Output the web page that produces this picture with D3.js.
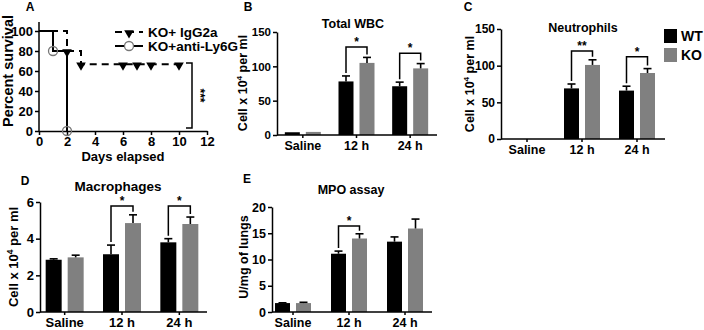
<!DOCTYPE html>
<html><head><meta charset="utf-8">
<script src="https://cdn.jsdelivr.net/npm/d3@7"></script>
<style>
html,body{margin:0;padding:0;background:#fff;}
svg{display:block;font-family:"Liberation Sans",Arial,Helvetica,sans-serif;font-weight:bold;}
</style></head>
<body><svg id="c" width="704" height="330"></svg>
<script>
// ---------- DATA ----------
const categories = ["Saline", "12 h", "24 h"];
const seriesNames = ["WT", "KO"];

// Panel A: survival (Kaplan-Meier)
const survXTicks = [0, 2, 4, 6, 8, 10, 12];
const survYTicks = [0, 20, 40, 60, 80, 100];
const iggTimes = [0, 2, 3, 10];
const iggSurv = [100, 80, 66.7, 66.7];
const iggMarkTimes = [2, 3, 6, 7, 8, 10];
const iggMarkSurv = [80, 66.7, 66.7, 66.7, 66.7, 66.7];
const ly6gTimes = [0, 1, 2, 2];
const ly6gSurv = [100, 80, 80, 0];
const ly6gMarkTimes = [1, 2];
const ly6gMarkSurv = [80, 0];
const survLegend = ["KO+ IgG2a", "KO+anti-Ly6G"];
const survSig = "***";
const survSigRange = [3, 68];

// Panel B: Total WBC
const wbcWT = [4, 78, 71];
const wbcWTErr = [0, 8, 6];
const wbcKO = [4.5, 105, 97];
const wbcKOErr = [0, 8, 7];
const wbcTicks = [0, 50, 100, 150];
const wbcSigCats = ["12 h", "24 h"];
const wbcSigTop = [128, 119];
const wbcSigLabel = ["*", "*"];

// Panel C: Neutrophils
const neuWT = [0, 69, 66];
const neuWTErr = [0, 6, 6];
const neuKO = [0, 101, 90];
const neuKOErr = [0, 7, 6];
const neuTicks = [0, 50, 100, 150];
const neuSigCats = ["12 h", "24 h"];
const neuSigTop = [120, 112];
const neuSigLabel = ["**", "*"];

// Panel D: Macrophages
const macWT = [2.85, 3.15, 3.8];
const macWTErr = [0.05, 0.5, 0.2];
const macKO = [2.98, 4.85, 4.8];
const macKOErr = [0.12, 0.45, 0.38];
const macTicks = [0, 2, 4, 6];
const macSigCats = ["12 h", "24 h"];
const macSigTop = [5.78, 5.78];
const macSigLabel = ["*", "*"];

// Panel E: MPO assay
const mpoWT = [1.7, 11.1, 13.4];
const mpoWTErr = [0.05, 0.5, 0.9];
const mpoKO = [1.7, 14.0, 15.9];
const mpoKOErr = [0.15, 0.9, 1.8];
const mpoTicks = [0, 5, 10, 15, 20];
const mpoSigCats = ["12 h"];
const mpoSigTop = [16.4];
const mpoSigLabel = ["*"];

// ---------- DRAW ----------
const svg = d3.select("#c");
const colors = {WT: "#000000", KO: "#808080"};
const fmt = d3.format("d");

function panelLetter(t, x, y) {
  svg.append("text").attr("x", x).attr("y", y).attr("font-size", 12)
    .attr("text-anchor", "middle").attr("dominant-baseline", "middle").text(t);
}

function cellLabel(g, x, y, size) {
  const t = g.append("text").attr("transform", `translate(${x},${y}) rotate(-90)`)
    .attr("text-anchor", "middle").attr("font-size", size);
  t.append("tspan").text("Cell x 10");
  t.append("tspan").attr("font-size", size * 0.65).attr("dy", -size * 0.4).text("4");
  t.append("tspan").attr("dy", size * 0.4).text(" per ml");
}

function barPanel(o) {
  const g = svg.append("g");
  const y = d3.scaleLinear().domain([0, o.max]).range([o.y0, o.y1]);
  const xb = d3.scaleBand().domain(categories).range(o.band).paddingInner(0).paddingOuter(0);
  const total = o.bw * 2 + o.gap;
  const xs = d3.scaleBand().domain(seriesNames)
    .range([(xb.bandwidth() - total) / 2, (xb.bandwidth() + total) / 2])
    .paddingInner(o.gap / (o.bw + o.gap));
  const vals = {WT: o.wt, KO: o.ko};
  const errs = {WT: o.wtErr, KO: o.koErr};

  seriesNames.forEach(s => {
    g.selectAll(null).data(categories).enter().append("rect")
      .attr("x", c => xb(c) + xs(s))
      .attr("width", xs.bandwidth())
      .attr("y", (c, i) => y(vals[s][i]))
      .attr("height", (c, i) => y(0) - y(vals[s][i]))
      .attr("fill", colors[s]);
    categories.forEach((c, i) => {
      if (errs[s][i] <= 0) return;
      const cx = xb(c) + xs(s) + xs.bandwidth() / 2;
      const top = y(vals[s][i] + errs[s][i]);
      g.append("line").attr("x1", cx).attr("x2", cx).attr("y1", y(vals[s][i])).attr("y2", top)
        .attr("stroke", "#000").attr("stroke-width", 1.6);
      g.append("line").attr("x1", cx - 4).attr("x2", cx + 4).attr("y1", top).attr("y2", top)
        .attr("stroke", "#000").attr("stroke-width", 1.6);
    });
  });

  const ya = g.append("g").attr("transform", `translate(${o.ax},0)`)
    .call(d3.axisLeft(y).tickValues(o.ticks).tickFormat(fmt).tickSize(4).tickSizeOuter(0).tickPadding(2));
  ya.select(".domain").attr("stroke-width", 1.5);
  ya.selectAll(".tick line").attr("stroke-width", 1.5);
  ya.selectAll("text").attr("font-size", o.tickFs).attr("font-family", null).attr("fill", "#000");

  const xa = g.append("g").attr("transform", `translate(0,${o.y0})`)
    .call(d3.axisBottom(xb).tickSize(3).tickSizeOuter(0).tickPadding(3));
  xa.select(".domain").attr("d", `M${o.ax},0H${o.xEnd}`).attr("stroke-width", 1.5);
  xa.selectAll(".tick line").attr("stroke-width", 1.5);
  xa.selectAll("text").attr("font-size", o.catFs).attr("font-family", null).attr("fill", "#000");

  o.sigCats.forEach((c, k) => {
    const i = categories.indexOf(c);
    const xl = xb(c) + xs("WT") + xs.bandwidth() / 2;
    const xr = xb(c) + xs("KO") + xs.bandwidth() / 2;
    const yt = y(o.sigTop[k]);
    const yl = y(o.wt[i] + o.wtErr[i]) - 3;
    const yr = y(o.ko[i] + o.koErr[i]) - 3;
    g.append("path").attr("d", `M${xl},${yl}V${yt}H${xr}V${yr}`)
      .attr("fill", "none").attr("stroke", "#000").attr("stroke-width", 1.5);
    g.append("text").attr("x", (xl + xr) / 2).attr("y", yt - 1).attr("text-anchor", "middle")
      .attr("font-size", 12).attr("fill", "#000").text(o.sigLabel[k]);
  });

  g.append("text").attr("x", o.title[1]).attr("y", o.title[2]).attr("text-anchor", "middle")
    .attr("dominant-baseline", "middle").attr("font-size", o.titleFs).text(o.title[0]);
  return g;
}

// ---- Panel A ----
(function () {
  const g = svg.append("g");
  const x = d3.scaleLinear().domain([0, 12]).range([39, 207]);
  const y = d3.scaleLinear().domain([0, 100]).range([131, 31]);
  const xa = g.append("g").attr("transform", `translate(0,${y(0)})`)
    .call(d3.axisBottom(x).tickValues(survXTicks).tickSize(4).tickSizeOuter(0).tickPadding(2));
  const ya = g.append("g").attr("transform", `translate(${x(0)},0)`)
    .call(d3.axisLeft(y).tickValues(survYTicks).tickSize(4).tickSizeOuter(0).tickPadding(2));
  ya.select(".domain").attr("d", `M0,${y(0)}V${y(109)}`);
  [xa, ya].forEach(a => {
    a.selectAll("path,line").attr("stroke-width", 1.5);
    a.selectAll("text").attr("font-size", 13).attr("font-family", null).attr("fill", "#000");
  });
  const line = d3.line().x(d => x(d[0])).y(d => y(d[1])).curve(d3.curveStepAfter);
  g.append("path").attr("d", line(d3.zip(iggTimes, iggSurv)))
    .attr("fill", "none").attr("stroke", "#000").attr("stroke-width", 2).attr("stroke-dasharray", "7,5");
  g.append("path").attr("d", line(d3.zip(ly6gTimes, ly6gSurv)))
    .attr("fill", "none").attr("stroke", "#000").attr("stroke-width", 2);
  const tri = d3.symbol().type(d3.symbolTriangle).size(40);
  g.selectAll(null).data(d3.zip(iggMarkTimes, iggMarkSurv)).enter().append("path")
    .attr("d", tri).attr("transform", d => `translate(${x(d[0])},${y(d[1]) + 1}) rotate(180)`)
    .attr("fill", "#000");
  g.selectAll(null).data(d3.zip(ly6gMarkTimes, ly6gMarkSurv)).enter().append("circle")
    .attr("cx", d => x(d[0])).attr("cy", d => y(d[1])).attr("r", 4.5)
    .attr("fill", "none").attr("stroke", "#777").attr("stroke-width", 1.3);
  const lx0 = 115, lx1 = 143;
  g.append("line").attr("x1", lx0).attr("x2", lx1).attr("y1", 32).attr("y2", 32)
    .attr("stroke", "#000").attr("stroke-width", 2).attr("stroke-dasharray", "7,5");
  g.append("path").attr("d", tri).attr("transform", `translate(${(lx0 + lx1) / 2},33) rotate(180)`);
  g.append("line").attr("x1", lx0).attr("x2", lx1).attr("y1", 46).attr("y2", 46)
    .attr("stroke", "#000").attr("stroke-width", 2);
  g.append("circle").attr("cx", (lx0 + lx1) / 2).attr("cy", 46).attr("r", 4.5)
    .attr("fill", "#fff").attr("stroke", "#777").attr("stroke-width", 1.3);
  survLegend.forEach((t, i) => g.append("text").attr("x", 148).attr("y", 32 + i * 14.5)
    .attr("dominant-baseline", "central").attr("font-size", 13.5).text(t));
  const bx = 192;
  g.append("path").attr("d", `M${bx - 6},${y(survSigRange[1])}H${bx}V${y(survSigRange[0])}H${bx - 6}`)
    .attr("fill", "none").attr("stroke", "#000").attr("stroke-width", 1.5);
  g.append("text").attr("transform", `translate(${bx + 4},${(y(survSigRange[0]) + y(survSigRange[1])) / 2}) rotate(90)`)
    .attr("text-anchor", "middle").attr("font-size", 12).attr("fill", "#000").text(survSig);
  g.append("text").attr("x", 123).attr("y", 158).attr("text-anchor", "middle")
    .attr("dominant-baseline", "middle").attr("font-size", 13).text("Days elapsed");
  g.append("text").attr("transform", `translate(13,${(y(0) + y(100)) / 2 - 10}) rotate(-90)`)
    .attr("text-anchor", "middle").attr("font-size", 14.5).text("Percent survival");
})();
panelLetter("A", 30, 8);

// ---- Panel B ----
const gB = barPanel({max: 150, y0: 135, y1: 32, ax: 277, xEnd: 437, band: [276, 437], bw: 15, gap: 6,
  wt: wbcWT, wtErr: wbcWTErr, ko: wbcKO, koErr: wbcKOErr, ticks: wbcTicks,
  sigCats: wbcSigCats, sigTop: wbcSigTop, sigLabel: wbcSigLabel,
  title: ["Total WBC", 353, 25], titleFs: 12.5, tickFs: 11.5, catFs: 12.5});
cellLabel(gB, 247, 83, 12.5);
panelLetter("B", 248, 8);

// ---- Panel C ----
const gC = barPanel({max: 150, y0: 139, y1: 29, ax: 501, xEnd: 665, band: [499.5, 664.5], bw: 15, gap: 6,
  wt: neuWT, wtErr: neuWTErr, ko: neuKO, koErr: neuKOErr, ticks: neuTicks,
  sigCats: neuSigCats, sigTop: neuSigTop, sigLabel: neuSigLabel,
  title: ["Neutrophils", 583, 29], titleFs: 12.5, tickFs: 12, catFs: 12.5});
cellLabel(gC, 474, 84, 12.5);
panelLetter("C", 468, 8);
seriesNames.forEach((s, i) => {
  svg.append("rect").attr("x", 664).attr("y", 29 + i * 19).attr("width", 13).attr("height", 14).attr("fill", colors[s]);
  svg.append("text").attr("x", 681).attr("y", 36 + i * 19).attr("dominant-baseline", "central")
    .attr("font-size", 14).text(s);
});

// ---- Panel D ----
const gD = barPanel({max: 6, y0: 312, y1: 202, ax: 40, xEnd: 207, band: [36, 208], bw: 16, gap: 6,
  wt: macWT, wtErr: macWTErr, ko: macKO, koErr: macKOErr, ticks: macTicks,
  sigCats: macSigCats, sigTop: macSigTop, sigLabel: macSigLabel,
  title: ["Macrophages", 118, 187], titleFs: 13.5, tickFs: 13, catFs: 13});
cellLabel(gD, 18, 257, 13);
panelLetter("D", 25, 182);

// ---- Panel E ----
const gE = barPanel({max: 20, y0: 312, y1: 207, ax: 272, xEnd: 432, band: [265, 433], bw: 15, gap: 6,
  wt: mpoWT, wtErr: mpoWTErr, ko: mpoKO, koErr: mpoKOErr, ticks: mpoTicks,
  sigCats: mpoSigCats, sigTop: mpoSigTop, sigLabel: mpoSigLabel,
  title: ["MPO assay", 351, 191], titleFs: 12.5, tickFs: 12.5, catFs: 12.5});
gE.append("text").attr("transform", `translate(248,257) rotate(-90)`).attr("text-anchor", "middle")
  .attr("font-size", 12.5).text("U/mg of lungs");
panelLetter("E", 247, 180);
</script></body></html>
